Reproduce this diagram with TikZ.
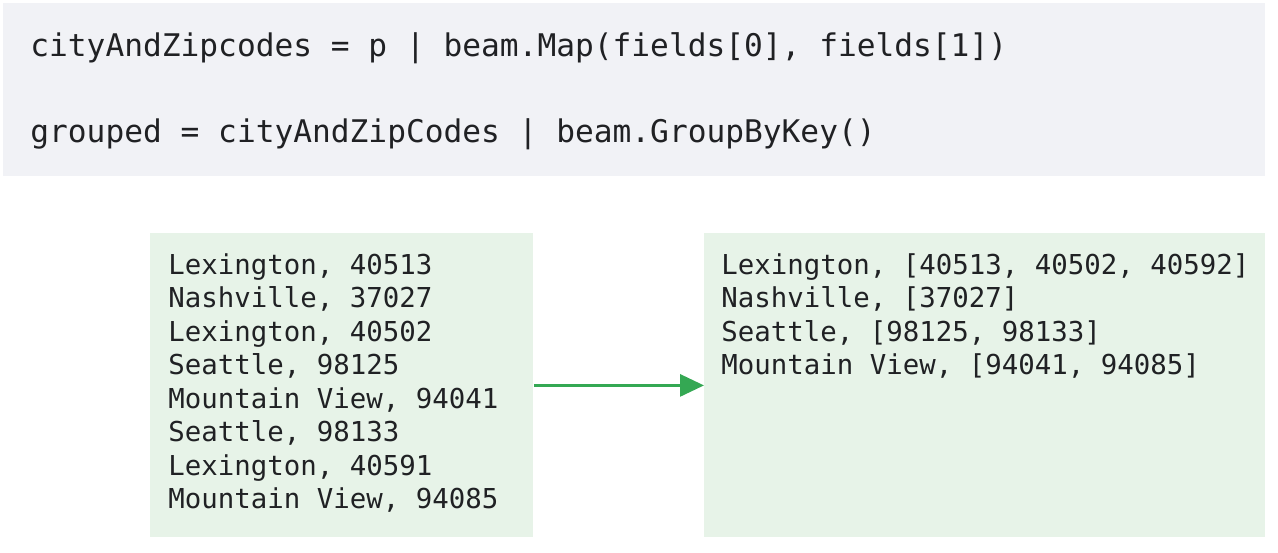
\documentclass[tikz,border=0pt]{standalone}
\usepackage{fontspec}
\setmonofont{DejaVu Sans Mono}
\usetikzlibrary{arrows.meta}
\definecolor{codebg}{HTML}{F1F2F6}
\definecolor{boxbg}{HTML}{E7F3E8}
\definecolor{arrowgreen}{HTML}{34A853}
\definecolor{txt}{HTML}{202124}
\tikzset{
  panel/.style={fill=boxbg, draw=none, inner sep=0pt, minimum height=152pt},
  codepanel/.style={fill=codebg, draw=none, inner sep=0pt},
  codetext/.style={anchor=base west, inner sep=0pt, text=txt, font=\ttfamily\fontsize{15.6}{18}\selectfont},
  listtext/.style={anchor=base west, inner sep=0pt, align=left, text=txt, font=\ttfamily\fontsize{13.7}{16.75}\selectfont},
  flow/.style={draw=arrowgreen, line width=1.5pt, -{Triangle[length=12pt,width=11pt]}}
}
\begin{document}
\begin{tikzpicture}[x=0.5pt,y=-0.5pt]
\useasboundingbox (0,0) rectangle (1278,552);
\node[codepanel, anchor=north west, minimum width=631pt, minimum height=86.5pt] (code) at (3,3) {};
\node[codetext] (line1) at (30,56) {cityAndZipcodes = p | beam.Map(fields[0], fields[1])};
\node[codetext] (line2) at (30,142) {grouped = cityAndZipCodes | beam.GroupByKey()};
\node[panel, anchor=north west, minimum width=191.5pt] (left) at (150,233) {};
\node[panel, anchor=north west, minimum width=280.5pt] (right) at (704,233) {};
\node[listtext] (lefttext) at (168,508.5) {Lexington, 40513\\Nashville, 37027\\Lexington, 40502\\Seattle, 98125\\Mountain View, 94041\\Seattle, 98133\\Lexington, 40591\\Mountain View, 94085};
\node[listtext] (righttext) at (721,374.5) {Lexington, [40513, 40502, 40592]\\Nashville, [37027]\\Seattle, [98125, 98133]\\Mountain View, [94041, 94085]};
\draw[flow] (left.east) -- (right.west);
\end{tikzpicture}
\end{document}
